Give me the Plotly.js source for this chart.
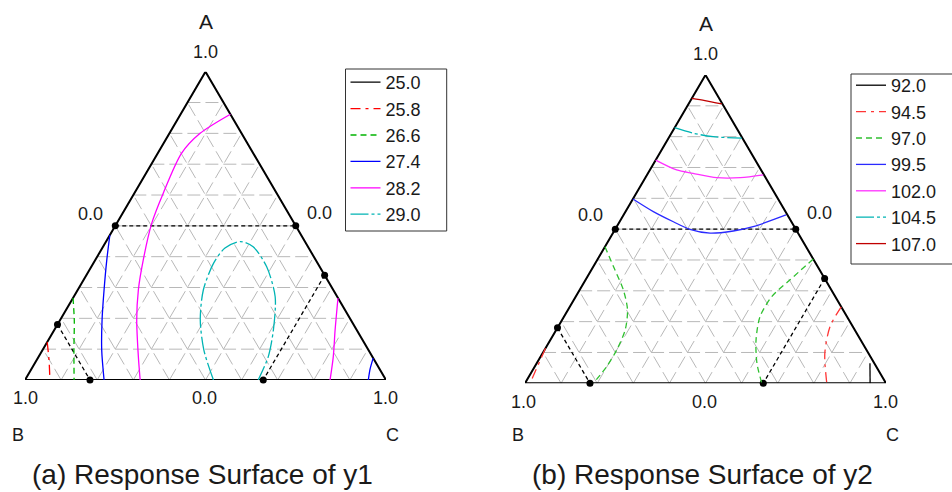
<!DOCTYPE html>
<html><head><meta charset="utf-8">
<script src="https://cdn.plot.ly/plotly-3.0.1.min.js"></script>
<style>html,body{margin:0;padding:0;background:#fff}#chart{width:952px;height:492px}</style>
</head><body><div id="chart"></div>
<script>
// ---- data: component fractions A and C (B = 1 - A - C) ----
const y1Levels = ['25.0','25.8','26.6','27.4','28.2','29.0'];
const y2Levels = ['92.0','94.5','97.0','99.5','102.0','104.5','107.0'];

const gridLevels = [0.1,0.2,0.3,0.4,0.5,0.6,0.7,0.8,0.9];
const boundA = 0.5, boundB = 0.82, boundC = 0.66;

// y1 contours (25.0 does not cross the region)
const y1_250_A = [null];
const y1_250_C = [null];
const y1_258_A = [0.123, 0.065, 0];
const y1_258_C = [0, 0.034, 0.069];
const y1_266_A = [0.266, 0.195, 0.097, 0];
const y1_266_C = [0, 0.039, 0.087, 0.136];
const y1_274_A = [0.470, 0.389, 0.292, 0.195, 0.097, 0, null, 0.071, 0.036, 0];
const y1_274_C = [0, 0.032, 0.073, 0.116, 0.164, 0.219, null, 0.929, 0.938, 0.951];
const y1_282_A = [0.862, 0.800, 0.735, 0.606, 0.508, 0.389, 0.292, 0.195, 0.076, 0, null, 0.266, 0.162, 0.076, 0];
const y1_282_C = [0.138, 0.085, 0.066, 0.080, 0.097, 0.133, 0.168, 0.212, 0.276, 0.319, null, 0.734, 0.778, 0.816, 0.845];
const y1_290_A = [0, 0.097, 0.195, 0.292, 0.379, 0.428, 0.449, 0.432, 0.367, 0.270, 0.162, 0.076, 0];
const y1_290_C = [0.522, 0.447, 0.388, 0.348, 0.333, 0.340, 0.372, 0.416, 0.486, 0.558, 0.607, 0.636, 0.646];

// y2 contours
const y2_920_A = [0.065, 0];
const y2_920_C = [0.923, 0.956];
const y2_945_A = [0.1135, 0, null, 0.248, 0.184, 0.097, 0];
const y2_945_C = [0, 0.014, null, 0.752, 0.753, 0.782, 0.836];
const y2_970_A = [0.443, 0.368, 0.303, 0.238, 0.173, 0.108, 0.054, 0, null, 0.403, 0.335, 0.281, 0.216, 0.140, 0.065, 0];
const y2_970_C = [0, 0.065, 0.121, 0.165, 0.191, 0.200, 0.199, 0.189, null, 0.597, 0.566, 0.543, 0.543, 0.570, 0.610, 0.656];
const y2_995_A = [0.598, 0.557, 0.524, 0.4995, 0.487, 0.494, 0.508, 0.546];
const y2_995_C = [0, 0.077, 0.149, 0.207, 0.269, 0.330, 0.378, 0.450];
const y2_1020_A = [0.724, 0.692, 0.681, 0.667, 0.667, 0.676];
const y2_1020_C = [0, 0.074, 0.125, 0.198, 0.263, 0.322];
const y2_1045_A = [0.829, 0.811, 0.800, 0.795];
const y2_1045_C = [0, 0.061, 0.121, 0.203];
const y2_1070_A = [0.924, 0.917, 0.906];
const y2_1070_C = [0, 0.040, 0.092];

const y1A = [y1_250_A, y1_258_A, y1_266_A, y1_274_A, y1_282_A, y1_290_A];
const y1C = [y1_250_C, y1_258_C, y1_266_C, y1_274_C, y1_282_C, y1_290_C];
const y2A = [y2_920_A, y2_945_A, y2_970_A, y2_995_A, y2_1020_A, y2_1045_A, y2_1070_A];
const y2C = [y2_920_C, y2_945_C, y2_970_C, y2_995_C, y2_1020_C, y2_1045_C, y2_1070_C];

// ---- styles ----
const y1Colors = ['#000000', '#ff0000', '#00b400', '#0000ff', '#ff00ff', '#00b4b4'];
const y1Dash = ['solid', '10px,5px,3px,5px', '6px,4px', 'solid', 'solid', '18px,3px,3px,3px'];
const y2Colors = ['#000000', '#ff3535', '#30c030', '#2a2aff', '#ff30ff', '#00b4b4', '#c00000'];
const y2Dash = ['solid', '10px,5px,3px,5px', '6px,4px', 'solid', 'solid', '18px,3px,3px,3px', 'solid'];

const FONT = 'Liberation Sans, Arial, sans-serif';
const TXT = '#1a1a1a';

// ternary (A, C) -> cartesian on the triangle B(0,0) C(1,0) A(0.5,1)
function tx(a, c) { return (a === null || c === null) ? null : c + a / 2; }
function ty(a) { return a === null ? null : a; }
function conv(A, C) {
  return { x: A.map((a, i) => tx(a, C[i])), y: A.map(a => ty(a)) };
}

const traces = [];

function frame(xa, ya) {
  const gA = [], gC = [];
  gridLevels.forEach(v => {
    gA.push(v, v, null); gC.push(0, 1 - v, null);          // const A
    gA.push(0, 1 - v, null); gC.push(v, v, null);          // const C
    gA.push(0, 1 - v, null); gC.push(1 - v, 0, null);      // const B
  });
  const g = conv(gA, gC);
  traces.push({ type: 'scatter', mode: 'lines', x: g.x, y: g.y, xaxis: xa, yaxis: ya,
    line: { color: '#b8b8b8', width: 1, dash: '13px,5px' }, hoverinfo: 'skip', showlegend: false, cliponaxis: false });
  const kA = [boundA, boundA, null, 1 - boundB, 0, null, 1 - boundC, 0];
  const kC = [0, 1 - boundA, null, 0, 1 - boundB, null, boundC, boundC];
  const k = conv(kA, kC);
  traces.push({ type: 'scatter', mode: 'lines', x: k.x, y: k.y, xaxis: xa, yaxis: ya,
    line: { color: '#000', width: 1.3, dash: '4px,3px' }, hoverinfo: 'skip', showlegend: false, cliponaxis: false });
  const t = conv([0, 0, 1, 0], [0, 1, 0, 0]);
  traces.push({ type: 'scatter', mode: 'lines', x: t.x, y: t.y, xaxis: xa, yaxis: ya,
    line: { color: '#000', width: 2 }, hoverinfo: 'skip', showlegend: false, cliponaxis: false });
  const d = conv(kA.filter(v => v !== null), kC.filter(v => v !== null));
  traces.push({ type: 'scatter', mode: 'markers', x: d.x, y: d.y, xaxis: xa, yaxis: ya,
    marker: { color: '#000', size: 7 }, hoverinfo: 'skip', showlegend: false, cliponaxis: false });
}

frame('x', 'y');
frame('x2', 'y2');

y1Levels.forEach((lv, i) => {
  const p = conv(y1A[i], y1C[i]);
  traces.push({ type: 'scatter', mode: 'lines', name: lv, x: p.x, y: p.y, xaxis: 'x', yaxis: 'y',
    line: { color: y1Colors[i], width: 1.3, dash: y1Dash[i], shape: 'spline', smoothing: 0.8 },
    legend: 'legend', cliponaxis: false });
});
y2Levels.forEach((lv, i) => {
  const p = conv(y2A[i], y2C[i]);
  traces.push({ type: 'scatter', mode: 'lines', name: lv, x: p.x, y: p.y, xaxis: 'x2', yaxis: 'y2',
    line: { color: y2Colors[i], width: 1.3, dash: y2Dash[i], shape: 'spline', smoothing: 0.8 },
    legend: 'legend2', cliponaxis: false });
});

// ---- layout ----
const W = 952, H = 492;
function px(v) { return v / W; }
function py(v) { return 1 - v / H; }
function lab(text, x, y, size) {
  return { text: text, xref: 'paper', yref: 'paper', x: px(x), y: py(y), xanchor: 'center', yanchor: 'middle',
    showarrow: false, font: { family: FONT, size: size, color: TXT } };
}
const annotations = [
  lab('A', 205.5, 21, 21), lab('1.0', 205.5, 52, 18),
  lab('0.0', 90.5, 213.5, 18), lab('0.0', 319, 212.5, 18),
  lab('1.0', 25, 398, 18), lab('0.0', 204.5, 398, 18), lab('1.0', 385.5, 398, 18),
  lab('B', 18.3, 435, 18), lab('C', 392.5, 435, 18),
  lab('(a) Response Surface of y1', 202, 474, 28),
  lab('A', 705.5, 23, 21), lab('1.0', 705.5, 54, 18),
  lab('0.0', 590.5, 215, 18), lab('0.0', 819, 213, 18),
  lab('1.0', 523.5, 401.5, 18), lab('0.0', 704.5, 401.5, 18), lab('1.0', 885.5, 401.5, 18),
  lab('B', 517.5, 435, 18), lab('C', 892.5, 435, 18),
  lab('(b) Response Surface of y2', 702, 474, 28)
];

function box(x0, y0, x1, y1) {
  return { type: 'rect', xref: 'paper', yref: 'paper', x0: px(x0), x1: px(x1), y0: py(y0), y1: py(y1),
    line: { color: '#333', width: 1 }, fillcolor: '#fff', layer: 'below' };
}

function ax(domain) {
  return { domain: domain, range: [0, 1], visible: false, showgrid: false, zeroline: false, fixedrange: true };
}
function legendBox(x, y) {
  return { x: px(x), y: py(y), xanchor: 'left', yanchor: 'top', bgcolor: 'rgba(0,0,0,0)', borderwidth: 0,
    font: { family: FONT, size: 18, color: TXT }, traceorder: 'normal' };
}

const layout = {
  width: W, height: H, margin: { l: 0, r: 0, t: 0, b: 0 },
  paper_bgcolor: '#fff', plot_bgcolor: 'rgba(0,0,0,0)', showlegend: true,
  xaxis: ax([px(25), px(386)]), yaxis: ax([py(380), py(71.7)]),
  xaxis2: ax([px(525), px(886)]), yaxis2: ax([py(383.3), py(75)]),
  legend: legendBox(345.5, 64),
  legend2: legendBox(851, 67),
  shapes: [box(345.5, 69, 446.7, 231), box(851, 74, 962, 264)],
  annotations: annotations
};

Plotly.newPlot('chart', traces, layout, { displayModeBar: false, staticPlot: true });
</script></body></html>
